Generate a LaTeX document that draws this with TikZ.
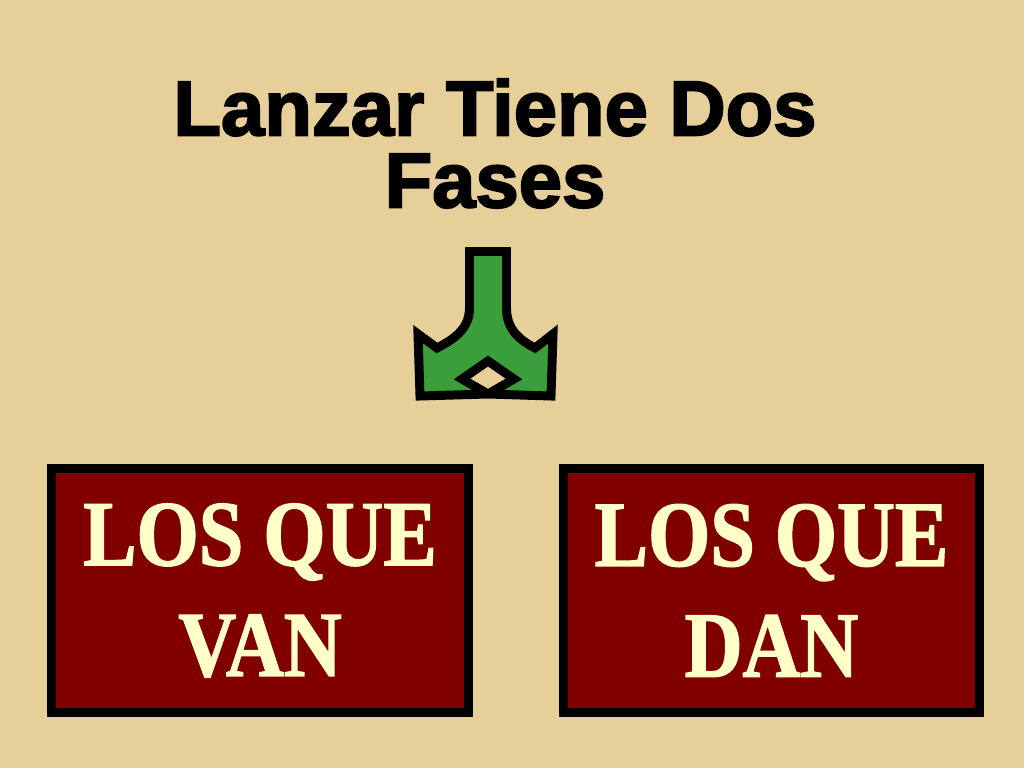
\documentclass[tikz,border=0pt]{standalone}
\usepackage{fontspec}
\setmainfont{Liberation Serif}
\newfontfamily\titlefont{Liberation Sans}[FakeBold=2.5]
\newfontfamily\boxfont{Liberation Serif}[FakeStretch=0.86, FakeBold=1.5]
\definecolor{paper}{RGB}{230,207,152}
\definecolor{boxred}{RGB}{128,0,0}
\definecolor{cream}{RGB}{255,255,200}
\definecolor{arrowgreen}{RGB}{58,158,58}
\tikzset{
  phasebox/.style={draw=black, fill=boxred, line width=5.1pt,
    minimum width=237.3pt, minimum height=138.8pt, align=center,
    text=cream, font=\boxfont\bfseries\fontsize{53}{63}\selectfont},
  heading/.style={inner sep=0pt, align=center,
    font=\titlefont\bfseries\fontsize{44.3}{41}\selectfont}
}
\begin{document}
\begin{tikzpicture}[x=0.02cm, y=-0.02cm]
      %%paper
      \fill[paper] (0, 0) rectangle (1024, 768);
      %%title
      \node[heading] (title) at (495, 143.5) {Lanzar Tiene Dos\\Fases};
      %%split arrow
      \draw[fill=arrowgreen, line width=5.1pt, line join=miter]
        (469.5, 251.5) -- (469.5, 308)
        .. controls (469.5, 330) and (452, 340) .. (437, 348)
        -- (418, 334) -- (420, 396) -- (488, 394)
        -- (462, 379) -- (488, 361) -- (514, 379) -- (488, 394)
        -- (551, 396) -- (553, 334) -- (535, 348)
        .. controls (520, 340) and (506.5, 330) .. (506.5, 308)
        -- (506.5, 251.5) -- cycle;
      %%boxes
      \node[phasebox] (van) at (260, 590.5) {LOS QUE\\VAN};
      \node[phasebox] (dan) at (771.5, 590.5) {LOS QUE\\DAN};
\end{tikzpicture}
\end{document}
